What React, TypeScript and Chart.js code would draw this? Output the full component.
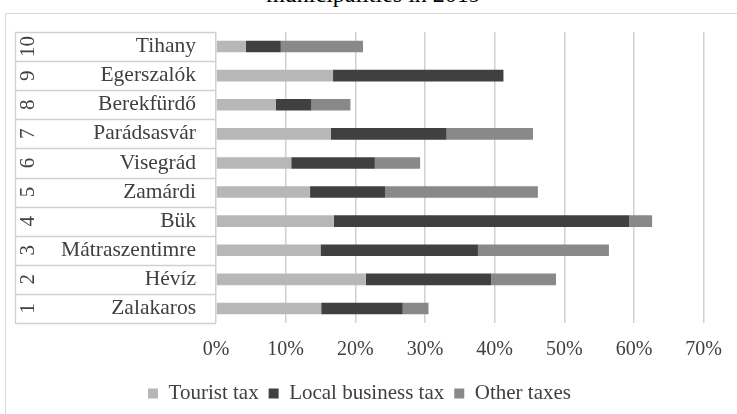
import React, { useEffect, useRef } from "react";
import { Chart, registerables } from "chart.js";

Chart.register(...registerables);

const categories = ["Tihany", "Egerszalók", "Berekfürdő", "Parádsasvár", "Visegrád", "Zamárdi", "Bük", "Mátraszentimre", "Hévíz", "Zalakaros"];
const ranks = ["10", "9", "8", "7", "6", "5", "4", "3", "2", "1"];
const touristTax = [4.3, 16.8, 8.6, 16.5, 10.8, 13.5, 16.9, 15.0, 21.5, 15.1];
const localBusinessTax = [5.0, 24.4, 5.1, 16.6, 12.0, 10.8, 42.4, 22.6, 18.0, 11.7];
const otherTaxes = [11.8, 0.1, 5.6, 12.4, 6.5, 21.9, 3.3, 18.8, 9.3, 3.7];
const xTicks = [0, 10, 20, 30, 40, 50, 60, 70];

const FONT = "'Liberation Serif', 'Times New Roman', serif";
const TEXT = "#404040";
const LINE = "#d0d0d0";

const tablePlugin = {
  id: "categoryTable",
  afterDraw(chart: any) {
    const ctx = chart.ctx;
    const y = chart.scales.y;
    const area = chart.chartArea;
    const left = 15;
    const right = area.left;
    const n = categories.length;
    const step = (y.getPixelForValue(n - 1) - y.getPixelForValue(0)) / (n - 1);
    ctx.save();
    ctx.strokeStyle = LINE;
    ctx.lineWidth = 1.3;
    for (let i = 0; i <= n; i++) {
      const py = y.getPixelForValue(0) - step / 2 + i * step;
      ctx.beginPath();
      ctx.moveTo(left, Math.round(py) + 0.5);
      ctx.lineTo(right, Math.round(py) + 0.5);
      ctx.stroke();
    }
    const top = y.getPixelForValue(0) - step / 2;
    const bottom = y.getPixelForValue(n - 1) + step / 2;
    ctx.beginPath();
    ctx.moveTo(left + 0.5, top);
    ctx.lineTo(left + 0.5, bottom);
    ctx.stroke();
    ctx.fillStyle = TEXT;
    ctx.font = "21px " + FONT;
    ctx.textAlign = "center";
    ctx.textBaseline = "middle";
    for (let i = 0; i < n; i++) {
      const py = y.getPixelForValue(i);
      ctx.save();
      ctx.translate(27, py);
      ctx.rotate(-Math.PI / 2);
      ctx.fillText(ranks[i], 0, 1);
      ctx.restore();
    }
    ctx.restore();
  },
};

export default function App() {
  const ref = useRef<HTMLCanvasElement | null>(null);
  useEffect(() => {
    if (!ref.current) return;
    const chart = new Chart(ref.current, {
      type: "bar",
      data: {
        labels: categories,
        datasets: [
          { label: "Tourist tax", data: touristTax, backgroundColor: "#b7b7b7" },
          { label: "Local business tax", data: localBusinessTax, backgroundColor: "#404040" },
          { label: "Other taxes", data: otherTaxes, backgroundColor: "#898989" },
        ],
      },
      options: {
        indexAxis: "y",
        animation: false,
        responsive: false,
        maintainAspectRatio: false,
        layout: { padding: { left: 15, right: 33, top: 32, bottom: 0 } },
        datasets: { bar: { categoryPercentage: 0.8, barPercentage: 0.5 } },
        scales: {
          x: {
            stacked: true,
            min: 0,
            max: 70,
            afterBuildTicks: (s: any) => { s.ticks = xTicks.map((v) => ({ value: v })); },
            afterFit: (s: any) => { s.height -= 4; },
            ticks: { callback: (v: any) => v + "%", color: TEXT, font: { family: FONT, size: 20 }, padding: 15 },
            grid: { color: LINE, lineWidth: 1.5, drawTicks: false },
            border: { display: false },
          },
          y: {
            stacked: true,
            afterFit: (s: any) => { s.width = 201; },
            ticks: { autoSkip: false, color: TEXT, font: { family: FONT, size: 21.5 }, padding: 12 },
            grid: { display: false },
            border: { display: false },
          },
        },
        plugins: {
          legend: {
            position: "bottom",
            labels: { boxWidth: 10, boxHeight: 10, color: TEXT, font: { family: FONT, size: 21 }, padding: 10 },
          },
          tooltip: { enabled: false },
        },
      },
      plugins: [tablePlugin],
    });
    return () => chart.destroy();
  }, []);
  return (
    <div style={{ position: "fixed", left: 0, top: 0, width: 737, height: 414, overflow: "hidden", background: "#fff" }}>
      <div style={{ position: "absolute", left: 0, width: 737, top: -18, textAlign: "center", fontFamily: FONT, fontSize: 24, lineHeight: "24px", color: "#000", paddingLeft: 10, boxSizing: "border-box" }}>
        municipalities in 2019
      </div>
      <div style={{ position: "absolute", left: 5, top: 13, width: 740, height: 420, border: "1.5px solid #d9d9d9", boxSizing: "border-box" }} />
      <canvas ref={ref} width={737} height={414} style={{ position: "absolute", left: 0, top: 0 }} />
    </div>
  );
}
